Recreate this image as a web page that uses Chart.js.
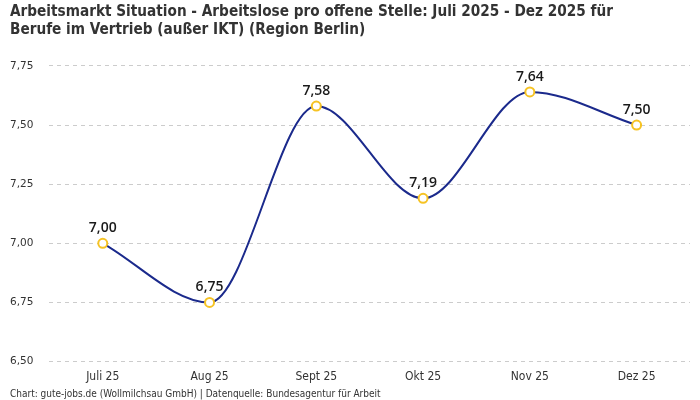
<!DOCTYPE html>
<html>
<head>
<meta charset="utf-8">
<script src="https://cdn.jsdelivr.net/npm/chart.js@4"></script>
<style>
  html, body { margin: 0; padding: 0; background: #fff; }
</style>
</head>
<body>
<canvas id="chart" width="700" height="400"></canvas>
<script>
"use strict";

const months = ["Juli 25", "Aug 25", "Sept 25", "Okt 25", "Nov 25", "Dez 25"];
const ratio = [7.0, 6.75, 7.58, 7.19, 7.64, 7.5];
const titleLines = [
  "Arbeitsmarkt Situation - Arbeitslose pro offene Stelle: Juli 2025 - Dez 2025 für",
  "Berufe im Vertrieb (außer IKT) (Region Berlin)",
];
const footerText =
  "Chart: gute-jobs.de (Wollmilchsau GmbH) | Datenquelle: Bundesagentur für Arbeit";

const narrow = "'Liberation Sans Narrow', 'DejaVu Sans Condensed', sans-serif";

function fmt(v) {
  return v.toFixed(2).replace(".", ",");
}

// labels over each point
const valueLabels = {
  id: "valueLabels",
  afterDatasetsDraw(chart) {
    const ctx = chart.ctx;
    const meta = chart.getDatasetMeta(0);
    ctx.save();
    ctx.font = "600 14px 'Open Sans', Inter, sans-serif";
    ctx.fillStyle = "#1a1a1a";
    ctx.textAlign = "center";
    ctx.textBaseline = "bottom";
    meta.data.forEach((pt, i) => {
      ctx.fillText(fmt(ratio[i]), pt.x, pt.y - 8);
    });
    ctx.restore();
  },
};

new Chart(document.getElementById("chart"), {
  type: "line",
  data: {
    labels: months,
    datasets: [
      {
        data: ratio,
        borderColor: "#1b2a8c",
        borderWidth: 2,
        cubicInterpolationMode: "monotone",
        pointRadius: 4.5,
        pointBorderWidth: 2,
        pointBorderColor: "#f6c324",
        pointBackgroundColor: "#ffffff",
        fill: false,
      },
    ],
  },
  options: {
    responsive: false,
    animation: false,
    devicePixelRatio: 1,
    layout: { padding: { left: 10, right: 10, top: 0, bottom: 0 } },
    plugins: {
      legend: { display: false },
      tooltip: { enabled: false },
      title: {
        display: true,
        text: titleLines,
        align: "start",
        color: "#333",
        font: { family: narrow, size: 15.2, weight: "bold", lineHeight: 1.18 },
        padding: { top: 3, bottom: 27 },
      },
      subtitle: {
        display: true,
        position: "bottom",
        text: footerText,
        align: "start",
        color: "#333",
        font: { family: narrow, size: 10 },
        padding: { top: 4, bottom: 0 },
      },
    },
    scales: {
      x: {
        offset: true,
        grid: { display: false },
        border: { display: false },
        ticks: { color: "#333", font: { family: narrow, size: 12 }, padding: 0, maxRotation: 0 },
      },
      y: {
        min: 6.5,
        max: 7.75,
        border: { display: false, dash: [4, 4] },
        grid: { color: "#cccccc", drawTicks: false },
        ticks: {
          stepSize: 0.25,
          color: "#333",
          padding: 8,
          crossAlign: "far",
          font: { family: "'DejaVu Sans', sans-serif", size: 10.5 },
          callback: (v) => fmt(v),
        },
      },
    },
  },
  plugins: [valueLabels],
});
</script>
</body>
</html>
